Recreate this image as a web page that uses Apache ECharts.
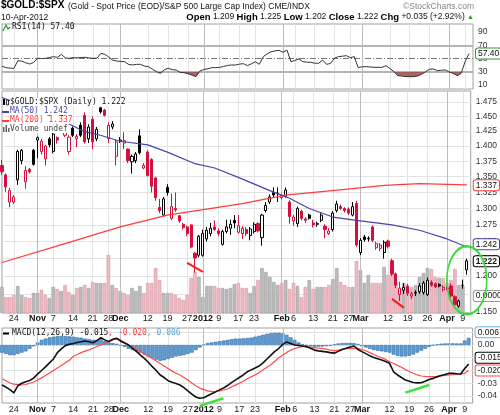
<!DOCTYPE html>
<html>
<head>
<meta charset="utf-8">
<title>$GOLD:$SPX</title>
<script src="https://cdn.jsdelivr.net/npm/echarts@6/dist/echarts.min.js"></script>
<style>
  html, body { margin: 0; padding: 0; background: #fff; }
  #chart { width: 500px; height: 415px; }
</style>
</head>
<body>
<div id="chart"></div>
<script>
// trading days shown on the chart, by month
var monthDays = [
  ['2011-10', [19, 20, 21, 24, 25, 26, 27, 28, 31]],
  ['2011-11', [1, 2, 3, 4, 7, 8, 9, 10, 11, 14, 15, 16, 17, 18, 21, 22, 23, 25, 28, 29, 30]],
  ['2011-12', [1, 2, 5, 6, 7, 8, 9, 12, 13, 14, 15, 16, 19, 20, 21, 22, 23, 27, 28, 29, 30]],
  ['2012-01', [3, 4, 5, 6, 9, 10, 11, 12, 13, 17, 18, 19, 20, 23, 24, 25, 26, 27, 30, 31]],
  ['2012-02', [1, 2, 3, 6, 7, 8, 9, 10, 13, 14, 15, 16, 17, 21, 22, 23, 24, 27, 28, 29]],
  ['2012-03', [1, 2, 5, 6, 7, 8, 9, 12, 13, 14, 15, 16, 19, 20, 21, 22, 23, 26, 27, 28, 29, 30]],
  ['2012-04', [2, 3, 4, 5, 9, 10]]
];

// open, high, low, close
var ohlc = [
  [1.368, 1.377, 1.353, 1.358], [1.353, 1.355, 1.326, 1.334], [1.310, 1.332, 1.302, 1.328], [1.310, 1.321, 1.307, 1.318],
  [1.345, 1.394, 1.337, 1.391], [1.376, 1.395, 1.370, 1.393], [1.342, 1.367, 1.331, 1.360], [1.362, 1.364, 1.355, 1.358],
  [1.393, 1.395, 1.368, 1.370], [1.410, 1.416, 1.380, 1.414], [1.391, 1.412, 1.386, 1.408], [1.379, 1.402, 1.368, 1.400],
  [1.412, 1.415, 1.398, 1.402], [1.391, 1.423, 1.388, 1.420], [1.414, 1.416, 1.404, 1.410], [1.456, 1.459, 1.440, 1.442],
  [1.418, 1.431, 1.415, 1.428], [1.391, 1.418, 1.386, 1.415], [1.430, 1.433, 1.415, 1.418], [1.412, 1.420, 1.398, 1.416],
  [1.435, 1.440, 1.415, 1.418], [1.452, 1.457, 1.404, 1.407], [1.412, 1.437, 1.405, 1.432], [1.445, 1.450, 1.395, 1.407],
  [1.412, 1.432, 1.408, 1.428], [1.465, 1.466, 1.455, 1.458], [1.461, 1.463, 1.450, 1.452], [1.412, 1.440, 1.405, 1.435],
  [1.432, 1.442, 1.428, 1.437], [1.383, 1.410, 1.368, 1.407], [1.408, 1.415, 1.405, 1.410], [1.405, 1.423, 1.395, 1.409],
  [1.395, 1.396, 1.372, 1.376], [1.374, 1.386, 1.355, 1.383], [1.376, 1.390, 1.372, 1.387], [1.417, 1.428, 1.386, 1.389],
  [1.364, 1.372, 1.362, 1.368], [1.390, 1.393, 1.350, 1.352], [1.378, 1.380, 1.325, 1.335], [1.348, 1.350, 1.312, 1.317],
  [1.302, 1.315, 1.293, 1.297], [1.290, 1.318, 1.288, 1.315], [1.333, 1.338, 1.320, 1.325], [1.285, 1.323, 1.282, 1.303],
  [1.300, 1.325, 1.295, 1.298], [1.289, 1.290, 1.278, 1.281], [1.276, 1.278, 1.268, 1.271], [1.272, 1.274, 1.258, 1.262],
  [1.275, 1.276, 1.240, 1.242], [1.233, 1.235, 1.205, 1.226], [1.230, 1.260, 1.227, 1.258], [1.230, 1.268, 1.228, 1.262],
  [1.254, 1.272, 1.250, 1.267], [1.262, 1.278, 1.258, 1.270], [1.272, 1.282, 1.266, 1.268], [1.266, 1.270, 1.258, 1.262],
  [1.246, 1.268, 1.244, 1.265], [1.265, 1.283, 1.262, 1.272], [1.270, 1.283, 1.260, 1.276], [1.282, 1.290, 1.270, 1.278],
  [1.264, 1.290, 1.262, 1.274], [1.262, 1.273, 1.254, 1.270], [1.268, 1.272, 1.258, 1.262], [1.259, 1.272, 1.252, 1.269],
  [1.265, 1.279, 1.262, 1.276], [1.277, 1.279, 1.264, 1.266], [1.256, 1.292, 1.244, 1.290], [1.297, 1.310, 1.294, 1.305],
  [1.310, 1.322, 1.307, 1.318], [1.325, 1.333, 1.318, 1.321], [1.323, 1.333, 1.310, 1.324], [1.317, 1.323, 1.314, 1.321],
  [1.319, 1.333, 1.317, 1.329], [1.310, 1.313, 1.277, 1.288], [1.281, 1.290, 1.274, 1.287], [1.277, 1.303, 1.272, 1.300],
  [1.296, 1.298, 1.282, 1.285], [1.284, 1.287, 1.278, 1.282], [1.290, 1.292, 1.283, 1.285], [1.278, 1.283, 1.271, 1.275],
  [1.276, 1.280, 1.272, 1.277], [1.282, 1.293, 1.279, 1.290], [1.273, 1.276, 1.255, 1.268], [1.262, 1.270, 1.260, 1.266],
  [1.268, 1.296, 1.265, 1.293], [1.297, 1.312, 1.294, 1.307], [1.303, 1.306, 1.298, 1.300], [1.300, 1.302, 1.294, 1.297],
  [1.299, 1.302, 1.290, 1.293], [1.290, 1.310, 1.288, 1.303], [1.308, 1.312, 1.242, 1.245], [1.234, 1.255, 1.230, 1.252],
  [1.257, 1.260, 1.250, 1.253], [1.254, 1.258, 1.250, 1.255], [1.272, 1.274, 1.249, 1.252], [1.241, 1.250, 1.238, 1.247],
  [1.240, 1.248, 1.236, 1.245], [1.234, 1.252, 1.225, 1.249], [1.251, 1.253, 1.240, 1.243], [1.222, 1.225, 1.200, 1.203],
  [1.203, 1.205, 1.183, 1.187], [1.174, 1.192, 1.165, 1.183], [1.180, 1.190, 1.175, 1.184], [1.186, 1.189, 1.172, 1.176],
  [1.172, 1.178, 1.168, 1.175], [1.176, 1.180, 1.172, 1.177], [1.178, 1.190, 1.175, 1.186], [1.177, 1.193, 1.174, 1.190],
  [1.174, 1.198, 1.172, 1.194], [1.191, 1.194, 1.185, 1.187], [1.189, 1.191, 1.183, 1.185], [1.188, 1.190, 1.184, 1.186],
  [1.181, 1.187, 1.178, 1.184], [1.183, 1.187, 1.180, 1.182], [1.186, 1.190, 1.170, 1.172], [1.171, 1.173, 1.157, 1.160],
  [1.158, 1.167, 1.156, 1.165], [1.187, 1.195, 1.182, 1.187], [1.209, 1.225, 1.202, 1.222]
];

var volume = [
  26, 16, 16, 18, 27, 18, 16, 15, 20, 20, 23, 18, 15, 26, 24, 22, 28, 21, 18, 25,
  26, 28, 25, 31, 30, 30, 30, 58, 28, 25, 22, 20, 18, 25, 22, 27, 20, 30, 30, 45,
  33, 20, 20, 20, 18, 15, 13, 18, 35, 41, 36, 16, 27, 27, 27, 25, 25, 24, 25, 29,
  30, 25, 25, 20, 27, 33, 45, 41, 36, 31, 28, 30, 33, 24, 30, 27, 16, 26, 33, 24,
  26, 26, 26, 28, 34, 45, 31, 28, 26, 26, 52, 43, 30, 38, 30, 30, 30, 46, 38, 52,
  31, 25, 30, 23, 26, 28, 36, 40, 45, 44, 36, 35, 35, 30, 33, 44, 28, 27, 0
];

var ma50Dates = ['2011-10-19', '2011-11-09', '2011-11-17', '2011-11-23', '2011-12-01', '2011-12-12', '2011-12-19',
  '2011-12-29', '2012-01-06', '2012-01-17', '2012-01-27', '2012-02-03', '2012-02-10', '2012-02-21', '2012-02-29',
  '2012-03-13', '2012-03-22', '2012-04-02', '2012-04-10'];
var ma50Values = [1.483, 1.444, 1.424, 1.418, 1.408, 1.402, 1.390, 1.371, 1.364, 1.349, 1.328, 1.316, 1.300,
  1.287, 1.282, 1.275, 1.267, 1.254, 1.242];

var ma200Dates = ['2011-10-19', '2011-11-10', '2011-12-01', '2011-12-19', '2012-01-18', '2012-02-02', '2012-02-28',
  '2012-03-09', '2012-03-22', '2012-04-10'];
var ma200Values = [1.2195, 1.247, 1.272, 1.290, 1.3075, 1.321, 1.331, 1.3362, 1.339, 1.337];

var rsi = [
  38.5, 36.2, 35.5, 35.0, 46.7, 46.0, 43.5, 41.7, 44.0, 50.5, 49.8, 50.3, 51.5, 52.8, 51.8, 56.3, 51.0, 50.3, 51.3, 51.0,
  51.5, 51.8, 50.8, 50.3, 50.5, 57.8, 56.3, 52.0, 47.5, 46.2, 45.5, 45.2, 41.0, 40.2, 41.2, 41.2, 38.5, 37.7, 34.0, 30.2,
  27.6, 33.0, 35.2, 33.2, 32.7, 29.0, 28.6, 27.0, 25.0, 22.6, 31.0, 33.5, 34.5, 36.2, 36.2, 36.7, 38.0, 39.5, 40.2, 40.2,
  41.5, 42.2, 39.2, 42.0, 45.2, 41.2, 52.8, 57.0, 60.3, 61.5, 62.3, 59.3, 62.8, 45.2, 47.0, 49.3, 45.2, 44.5, 44.2, 43.0,
  42.7, 47.7, 41.2, 42.5, 50.5, 52.8, 53.5, 54.3, 51.3, 52.8, 36.2, 37.5, 37.7, 37.2, 36.7, 36.7, 36.7, 39.2, 35.0, 30.2,
  24.1, 23.5, 22.6, 22.6, 22.6, 23.5, 26.1, 30.0, 33.7, 34.2, 31.7, 32.2, 32.7, 29.5, 27.6, 24.1, 27.6, 45.2, 57.4
];

var macd = [
  -0.0314, -0.0330, -0.0350, -0.0375, -0.0320, -0.0300, -0.0288, -0.0278, -0.0260, -0.0228,
  -0.0200, -0.0172, -0.0140, -0.0110, -0.0060, -0.0030, -0.0005, 0.0005, 0.0012, 0.0020,
  0.0025, 0.0031, 0.0025, 0.0018, 0.0035, 0.0058, 0.0040, 0.0028, 0.0045, 0.0052,
  0.0030, 0.0015, 0.0000, -0.0026, -0.0050, -0.0080, -0.0105, -0.0135, -0.0170, -0.0200,
  -0.0235, -0.0255, -0.0280, -0.0292, -0.0302, -0.0314, -0.0335, -0.0360, -0.0385, -0.0408,
  -0.0418, -0.0414, -0.0398, -0.0382, -0.0368, -0.0352, -0.0338, -0.0318, -0.0295, -0.0275,
  -0.0255, -0.0235, -0.0210, -0.0195, -0.0180, -0.0165, -0.0140, -0.0110, -0.0080, -0.0050,
  -0.0026, 0.0005, 0.0024, 0.0012, 0.0000, -0.0004, -0.0008, -0.0013, -0.0025, -0.0040,
  -0.0046, -0.0050, -0.0054, -0.0060, -0.0064, -0.0050, -0.0035, -0.0026, -0.0015, -0.0008,
  -0.0035, -0.0052, -0.0068, -0.0085, -0.0098, -0.0108, -0.0118, -0.0130, -0.0144, -0.0210,
  -0.0235, -0.0255, -0.0275, -0.0285, -0.0294, -0.0297, -0.0296, -0.0285, -0.0270, -0.0262,
  -0.0250, -0.0240, -0.0232, -0.0222, -0.0222, -0.0226, -0.0227, -0.0185, -0.0150
];

var signal = [
  -0.0265, -0.0280, -0.0298, -0.0307, -0.0311, -0.0314, -0.0310, -0.0300, -0.0290, -0.0275,
  -0.0258, -0.0240, -0.0220, -0.0200, -0.0180, -0.0160, -0.0140, -0.0120, -0.0090, -0.0075,
  -0.0060, -0.0048, -0.0038, -0.0025, -0.0012, 0.0000, 0.0012, 0.0025, 0.0039, 0.0052,
  0.0040, 0.0020, 0.0002, -0.0015, -0.0032, -0.0050, -0.0070, -0.0088, -0.0105, -0.0125,
  -0.0145, -0.0165, -0.0185, -0.0205, -0.0222, -0.0235, -0.0255, -0.0275, -0.0298, -0.0320,
  -0.0338, -0.0350, -0.0360, -0.0366, -0.0364, -0.0360, -0.0353, -0.0345, -0.0330, -0.0315,
  -0.0300, -0.0285, -0.0265, -0.0250, -0.0235, -0.0215, -0.0195, -0.0175, -0.0155, -0.0128,
  -0.0100, -0.0078, -0.0058, -0.0040, -0.0028, -0.0018, -0.0013, -0.0013, -0.0016, -0.0020,
  -0.0024, -0.0027, -0.0033, -0.0040, -0.0044, -0.0040, -0.0035, -0.0028, -0.0026, -0.0026,
  -0.0026, -0.0035, -0.0045, -0.0060, -0.0075, -0.0088, -0.0100, -0.0113, -0.0131, -0.0145,
  -0.0160, -0.0175, -0.0193, -0.0208, -0.0222, -0.0235, -0.0243, -0.0246, -0.0248, -0.0248,
  -0.0246, -0.0243, -0.0238, -0.0235, -0.0232, -0.0229, -0.0226, -0.0222, -0.0200
];

var hist = [
  -0.006, -0.007, -0.008, -0.008, -0.007, -0.006, -0.005, -0.003, -0.001, 0.002,
  0.004, 0.005, 0.006, 0.0065, 0.007, 0.007, 0.007, 0.0068, 0.0065, 0.006,
  0.0058, 0.005, 0.0045, 0.004, 0.004, 0.0045, 0.003, 0.002, 0.0015, 0.001,
  -0.0005, -0.0015, -0.003, -0.004, -0.005, -0.006, -0.0075, -0.009, -0.010, -0.0115,
  -0.0125, -0.012, -0.011, -0.010, -0.009, -0.0085, -0.008, -0.007, -0.006, -0.004,
  -0.002, 0.0005, 0.0015, 0.002, 0.0025, 0.003, 0.0035, 0.004, 0.0045, 0.005,
  0.005, 0.0052, 0.0055, 0.0058, 0.0065, 0.0072, 0.008, 0.0088, 0.0093, 0.0096,
  0.0096, 0.0092, 0.008, 0.006, 0.004, 0.002, 0.0005, -0.0005, -0.001, -0.0013,
  -0.0013, -0.0012, -0.001, -0.0005, 0.0005, 0.0012, 0.0015, 0.0016, 0.0016, 0.0015,
  0.0008, -0.001, -0.002, -0.003, -0.004, -0.0045, -0.005, -0.0055, -0.006, -0.0075,
  -0.0085, -0.009, -0.009, -0.0085, -0.0075, -0.006, -0.0045, -0.003, -0.0015, -0.0003,
  0.0005, 0.001, 0.0012, 0.0013, 0.0013, 0.0012, 0.0012, 0.0035, 0.0056
];

// x axis labels
var tickDays = ['2011-10-24', '2011-11-01', '2011-11-07', '2011-11-14', '2011-11-21', '2011-11-28', '2011-12-01',
  '2011-12-12', '2011-12-19', '2011-12-27', '2012-01-03', '2012-01-09', '2012-01-17', '2012-01-23', '2012-02-01',
  '2012-02-06', '2012-02-13', '2012-02-21', '2012-02-27', '2012-03-01', '2012-03-12', '2012-03-19', '2012-03-26',
  '2012-04-02', '2012-04-09'];
var tickText = ['24', 'Nov', '7', '14', '21', '28', 'Dec', '12', '19', '27', '2012', '9', '17', '23', 'Feb',
  '6', '13', '21', '27', 'Mar', '12', '19', '26', 'Apr', '9'];
var monthLabels = ['Nov', 'Dec', '2012', 'Feb', 'Mar', 'Apr'];
var monthStarts = ['2011-11-01', '2011-12-01', '2012-01-03', '2012-02-01', '2012-03-01', '2012-04-02'];

var priceTicks = [1.150, 1.175, 1.200, 1.225, 1.250, 1.275, 1.300, 1.325, 1.350, 1.375, 1.400, 1.425, 1.450, 1.475];
var rsiTicks = [10, 30, 50, 70, 90];
var macdTicks = [0.01, 0, -0.01, -0.02, -0.03, -0.04];

// hand drawn marks on the original
var redMarks = [[['2011-12-27', 1.219], ['2012-01-03', 1.206]], [['2012-03-13', 1.168], ['2012-03-16', 1.156]]];
var greenMarks = [[['2011-12-30', -0.0478], ['2012-01-10', -0.0418]], [['2012-03-16', -0.0374], ['2012-03-26', -0.0314]]];
var circled = ['2012-04-10', 1.194];

var dates = [];
monthDays.forEach(function (m) {
  m[1].forEach(function (d) { dates.push(m[0] + '-' + (d < 10 ? '0' : '') + d); });
});
var cats = dates.concat(['']);

var LN = Math.log;
var SANS = '"Liberation Sans", Arial, sans-serif';
var MONO = '"DejaVu Sans Mono", monospace';
var RED = '#d4103e';

function last(a) { return a[a.length - 1]; }

var candles = ohlc.map(function (r, i) {
  var o = r[0], h = r[1], l = r[2], c = r[3];
  var prev = i > 0 ? ohlc[i - 1][3] : o;
  var col = c >= prev ? '#000' : RED;
  var fill = c > o ? '#fff' : col;
  return {
    value: [LN(o), LN(c), LN(l), LN(h)],
    itemStyle: { color: fill, color0: fill, borderColor: col, borderColor0: col, borderWidth: 1 }
  };
});

var volBars = volume.map(function (v, i) {
  var down = i > 0 && ohlc[i][3] < ohlc[i - 1][3];
  return {
    value: v,
    itemStyle: down ? { color: '#ecbcc4', borderColor: '#dc909d', borderWidth: 0.6 }
                    : { color: '#bdbdbd', borderColor: '#999', borderWidth: 0.6 }
  };
});

function showTick(idx, val) { return tickDays.indexOf(val) >= 0; }

function tagItem(y, text, border, bold) {
  return {
    yAxis: y,
    lineStyle: { color: 'rgba(0,0,0,0)', width: 1 },
    label: {
      show: true, position: 'end', distance: 3, formatter: text,
      color: '#111', fontFamily: SANS, fontSize: 8.5, fontWeight: bold ? 'bold' : 'normal',
      backgroundColor: '#fff', borderColor: border, borderWidth: 1, borderRadius: 2, padding: [1, 2, 0, 2]
    }
  };
}
function vline(d) {
  return { xAxis: d, lineStyle: { color: '#bcbcbc', width: 1, type: 'solid' }, label: { show: false } };
}
function hline(y, color, width, type) {
  return { yAxis: y, lineStyle: { color: color, width: width, type: type }, label: { show: false } };
}
function marks(items, z) {
  return { silent: true, symbol: ['none', 'none'], animation: false, z: z, label: { show: false }, data: items };
}
function segs(list, toY) {
  return list.map(function (m) {
    return { coords: m.map(function (p) { return [dates.indexOf(p[0]), toY(p[1])]; }) };
  });
}

var chart = echarts.init(document.getElementById('chart'), null, { renderer: 'canvas' });

var xAxes = [0, 1, 2].map(function (g) {
  return {
    type: 'category', gridIndex: g, data: cats, boundaryGap: false,
    axisLine: { show: false }, axisTick: { show: false },
    axisLabel: {
      show: g > 0, interval: showTick, margin: g === 1 ? 1 : 2,
      fontFamily: SANS, fontSize: 9, color: '#222',
      formatter: function (val) {
        var k = tickDays.indexOf(val);
        if (k < 0) return '';
        var t = tickText[k];
        return monthLabels.indexOf(t) >= 0 ? '{m|' + t + '}' : t;
      },
      rich: { m: { fontFamily: SANS, fontSize: 9, fontWeight: 'bold', color: '#111' } }
    },
    splitLine: { show: true, interval: showTick, lineStyle: { color: '#e3e3e3', width: 1 } }
  };
});

var yLabel = { fontFamily: SANS, fontSize: 8.5, color: '#333', margin: 5 };

var option = {
  animation: false,
  backgroundColor: '#fff',
  grid: [
    { left: 2, right: 27, top: 24, height: 65, show: true, borderColor: '#a0a0a0', borderWidth: 1 },
    { left: 2, right: 27, top: 91, height: 222, show: true, borderColor: '#a0a0a0', borderWidth: 1 },
    { left: 2, right: 27, top: 328, height: 75, show: true, borderColor: '#a0a0a0', borderWidth: 1 }
  ],
  xAxis: xAxes,
  yAxis: [
    {
      type: 'value', gridIndex: 0, position: 'right', min: 3.96, max: 102.1,
      axisLine: { show: false }, axisTick: { show: false, customValues: rsiTicks },
      splitLine: { show: false },
      axisLabel: Object.assign({ customValues: rsiTicks }, yLabel)
    },
    {
      type: 'value', gridIndex: 1, position: 'right', min: LN(1.1486), max: LN(1.4944),
      axisLine: { show: false }, axisTick: { show: false, customValues: priceTicks.map(LN) },
      splitLine: { show: true, lineStyle: { color: '#e3e3e3' } },
      axisLabel: Object.assign({
        customValues: priceTicks.map(LN),
        formatter: function (v) { return Math.exp(v).toFixed(3); }
      }, yLabel)
    },
    { type: 'value', gridIndex: 1, min: 0, max: 222, show: false, splitLine: { show: false } },
    {
      type: 'value', gridIndex: 2, position: 'right', min: -0.0455, max: 0.01333,
      axisLine: { show: false }, axisTick: { show: false, customValues: macdTicks },
      splitLine: { show: true, lineStyle: { color: '#e3e3e3' } },
      axisLabel: Object.assign({
        customValues: macdTicks,
        formatter: function (v) { return v.toFixed(2); }
      }, yLabel)
    }
  ],
  visualMap: [{
    type: 'piecewise', show: false, seriesIndex: 1, dimension: 1,
    pieces: [{ gte: 0, lt: 30, color: '#9c4a4a' }, { gte: 30, lte: 100, color: 'rgba(255,255,255,0)' }]
  }],
  series: [
    {
      name: 'RSI', type: 'line', xAxisIndex: 0, yAxisIndex: 0, data: rsi, symbol: 'none', z: 3,
      lineStyle: { color: '#333', width: 1 },
      markLine: marks([
        hline(30, '#b4b4b4', 2, 'solid'), hline(70, '#b4b4b4', 2, 'solid'), hline(50, '#777', 1, [6, 2, 1, 2])
      ].concat(monthStarts.map(vline)).concat([
        tagItem(last(rsi), last(rsi).toFixed(2), '#3c913c')
      ]), 2)
    },
    {
      name: 'RSI shade', type: 'line', xAxisIndex: 0, yAxisIndex: 0, data: rsi, symbol: 'none', z: 2,
      lineStyle: { opacity: 0 }, areaStyle: { origin: 30, opacity: 0.85 }
    },
    {
      name: 'Volume', type: 'bar', xAxisIndex: 1, yAxisIndex: 2, data: volBars, barWidth: 3.4, z: 1,
      markLine: marks(monthStarts.map(vline).concat([tagItem(17, '0.0000', '#999')]), 1.5)
    },
    {
      name: '$GOLD:$SPX', type: 'candlestick', xAxisIndex: 1, yAxisIndex: 1, data: candles, barWidth: 2.6, z: 3,
      markLine: marks([tagItem(LN(last(ohlc)[3]), last(ohlc)[3].toFixed(3), '#000', true)], 4),
      markPoint: {
        silent: true, animation: false,
        data: [{
          coord: [circled[0], LN(circled[1])], symbol: 'circle', symbolSize: [40, 68],
          itemStyle: { color: 'rgba(0,0,0,0)', borderColor: '#36dc36', borderWidth: 2 },
          label: { show: false }
        }]
      }
    },
    {
      name: 'MA(200)', type: 'line', xAxisIndex: 1, yAxisIndex: 1, symbol: 'none', z: 4,
      data: ma200Dates.map(function (d, i) { return [d, LN(ma200Values[i])]; }),
      lineStyle: { color: '#ff3b3b', width: 1.2 },
      markLine: marks([tagItem(LN(last(ma200Values)), last(ma200Values).toFixed(3), '#ff3b3b')], 4)
    },
    {
      name: 'MA(50)', type: 'line', xAxisIndex: 1, yAxisIndex: 1, symbol: 'none', z: 4,
      data: ma50Dates.map(function (d, i) { return [d, LN(ma50Values[i])]; }),
      lineStyle: { color: '#4646aa', width: 1.2 },
      markLine: marks([tagItem(LN(last(ma50Values)), last(ma50Values).toFixed(3), '#4646aa')], 4)
    },
    {
      name: 'Histogram', type: 'bar', xAxisIndex: 2, yAxisIndex: 3, data: hist, barWidth: 3.6, z: 1,
      itemStyle: { color: '#5f9dd4', borderColor: '#2f6ca3', borderWidth: 0.6 },
      markLine: marks(monthStarts.map(vline).concat([tagItem(last(hist), last(hist).toFixed(3), '#6aaee0')]), 1.5)
    },
    {
      name: 'Signal', type: 'line', xAxisIndex: 2, yAxisIndex: 3, data: signal, symbol: 'none', z: 3,
      lineStyle: { color: '#ff4a4a', width: 1.2 },
      markLine: marks([tagItem(last(signal), last(signal).toFixed(3), '#ff4a4a')], 4)
    },
    {
      name: 'MACD', type: 'line', xAxisIndex: 2, yAxisIndex: 3, data: macd, symbol: 'none', z: 4,
      lineStyle: { color: '#111', width: 1.6 },
      markLine: marks([tagItem(last(macd), last(macd).toFixed(3), '#000')], 5)
    },
    {
      type: 'lines', coordinateSystem: 'cartesian2d', xAxisIndex: 1, yAxisIndex: 1, clip: false, silent: true, z: 6,
      lineStyle: { color: '#ff1a1a', width: 2, opacity: 1 },
      data: segs(redMarks, LN)
    },
    {
      type: 'lines', coordinateSystem: 'cartesian2d', xAxisIndex: 2, yAxisIndex: 3, clip: false, silent: true, z: 6,
      lineStyle: { color: '#3ee03e', width: 2.5, opacity: 1 },
      data: segs(greenMarks, function (v) { return v; })
    }
  ],
  graphic: [
    { type: 'text', left: 1, top: 0, z: 100, style: { text: '$GOLD:$SPX', fontFamily: SANS, fontSize: 10, fontWeight: 'bold', fill: '#000' } },
    { type: 'text', left: 68, top: 2, z: 100, style: { text: '(Gold - Spot Price (EOD)/S&P 500 Large Cap Index) CME/INDX', fontFamily: SANS, fontSize: 8.5, fill: '#111' } },
    { type: 'text', right: 26, top: 2, z: 100, style: { text: '\u00a9StockCharts.com', fontFamily: SANS, fontSize: 8.5, fill: '#888' } },
    { type: 'text', left: 1, top: 13, z: 100, style: { text: '10-Apr-2012', fontFamily: SANS, fontSize: 8.5, fill: '#111' } },
    {
      type: 'text', right: 26, top: 12, z: 100,
      style: {
        text: '{b|Open} 1.209 {b|High} 1.225 {b|Low} 1.202 {b|Close} 1.222 {b|Chg} +0.035 (+2.92%) {g|\u25b2}',
        fontFamily: SANS, fontSize: 8.5, fill: '#111',
        rich: {
          b: { fontFamily: SANS, fontSize: 9.5, fontWeight: 'bold', fill: '#000' },
          g: { fontFamily: SANS, fontSize: 7, fill: '#2a9a2a' }
        }
      }
    },
    // RSI panel label
    { type: 'polyline', z: 100, shape: { points: [[3, 31], [6, 25], [8, 29], [10, 27]] }, style: { stroke: '#2a9a2a', lineWidth: 1.2, fill: null } },
    { type: 'text', left: 12, top: 23, z: 100, style: { text: 'RSI(14) 57.40', fontFamily: MONO, fontSize: 8, fill: '#111' } },
    // price panel legend
    { type: 'rect', z: 100, shape: { x: 3, y: 99, width: 2, height: 6 }, style: { fill: '#000' } },
    { type: 'rect', z: 100, shape: { x: 6.5, y: 100, width: 2, height: 5 }, style: { fill: '#fff', stroke: '#000', lineWidth: 0.8 } },
    { type: 'text', left: 10, top: 98, z: 100, style: { text: '$GOLD:$SPX (Daily) 1.222', fontFamily: MONO, fontSize: 8, fill: '#111', backgroundColor: '#fff' } },
    { type: 'line', z: 100, shape: { x1: 2, y1: 112, x2: 9, y2: 112 }, style: { stroke: '#4646aa', lineWidth: 2 } },
    { type: 'text', left: 10, top: 107, z: 100, style: { text: 'MA(50) 1.242', fontFamily: MONO, fontSize: 8, fill: '#4646aa', backgroundColor: '#fff' } },
    { type: 'line', z: 100, shape: { x1: 2, y1: 121, x2: 9, y2: 121 }, style: { stroke: '#ff3b3b', lineWidth: 2 } },
    { type: 'text', left: 10, top: 116, z: 100, style: { text: 'MA(200) 1.337', fontFamily: MONO, fontSize: 8, fill: '#ff3b3b', backgroundColor: '#fff' } },
    { type: 'rect', z: 100, shape: { x: 3, y: 127, width: 1.5, height: 5 }, style: { fill: '#666' } },
    { type: 'rect', z: 100, shape: { x: 5.5, y: 125, width: 1.5, height: 7 }, style: { fill: '#666' } },
    { type: 'rect', z: 100, shape: { x: 8, y: 128, width: 1.5, height: 4 }, style: { fill: '#666' } },
    { type: 'text', left: 10, top: 125, z: 100, style: { text: 'Volume undef', fontFamily: MONO, fontSize: 8, fill: '#444', backgroundColor: '#fff' } },
    // MACD panel label
    { type: 'line', z: 100, shape: { x1: 3, y1: 333.5, x2: 9, y2: 333.5 }, style: { stroke: '#000', lineWidth: 2 } },
    {
      type: 'text', left: 12, top: 329, z: 100,
      style: {
        text: '{k|MACD(12,26,9) -0.015}{r|, -0.020}{c|, 0.006}',
        fontFamily: MONO, fontSize: 8, fill: '#111',
        rich: {
          k: { fontFamily: MONO, fontSize: 8, fill: '#111' },
          r: { fontFamily: MONO, fontSize: 8, fill: '#ff3b3b' },
          c: { fontFamily: MONO, fontSize: 8, fill: '#5aa8dc' }
        }
      }
    }
  ]
};

chart.setOption(option);
</script>
</body>
</html>
